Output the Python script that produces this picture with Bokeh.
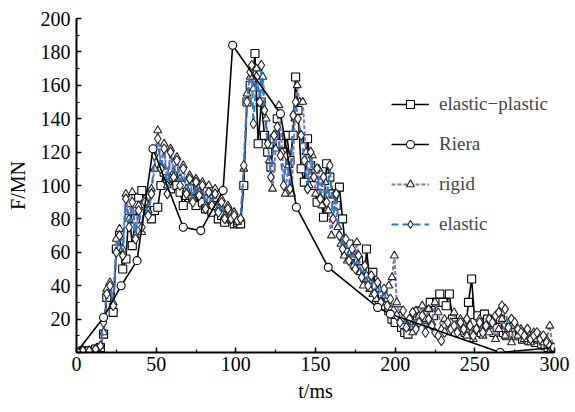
from bokeh.plotting import figure
from bokeh.models import Range1d, SingleIntervalTicker, Legend, LegendItem
from bokeh.embed import file_html
from bokeh.resources import INLINE

# ---------------- data ----------------
ep_t = [0, 4, 8, 12, 15, 17, 19, 21, 23, 25, 27, 29, 31, 33, 35, 37, 39, 41, 43, 45, 47, 49,
        51, 53, 55, 57, 59, 61, 63, 65, 67, 69, 71, 73, 75, 77, 79, 81, 83, 85, 87, 89, 91,
        93, 95, 97, 99, 101, 103, 105, 107, 109, 111, 112, 114, 116, 118, 120, 122, 124, 126,
        128, 130, 132, 134, 136, 137.5, 139, 141, 143, 145, 147, 149, 151, 153, 155, 157, 159,
        161, 163, 165, 167, 169, 171, 173, 175, 177, 179, 181, 182, 184, 186, 188, 190, 192,
        194, 196, 198, 200, 202, 204, 206, 208, 210, 212, 214, 216, 218, 220, 222, 224, 226,
        228, 230, 232, 234, 236, 238, 240, 242, 244, 246, 248, 250, 252, 254, 256, 258, 260,
        262, 264, 266, 268, 270, 272, 274, 276, 278, 280, 282, 284, 286, 288, 290, 292, 294,
        296, 298, 300]
ep_f = [0, 1, 1, 2, 3, 11, 33, 38, 24, 62, 70, 50, 56, 85, 64, 80, 93, 97, 88, 85, 80, 85,
        87, 100, 108, 104, 98, 105, 100, 96, 88, 94, 98, 92, 88, 95, 90, 86, 92, 84, 88, 80, 82,
        78, 84, 80, 77, 78, 77, 100, 150, 160, 168, 179, 125, 150, 130, 120, 111, 128, 140,
        125, 120, 130, 115, 130, 165, 145, 110, 102, 128, 112, 100, 90, 95, 81, 113, 105,
        95, 88, 99, 80, 60, 65, 58, 52, 55, 50, 45, 62, 44, 48, 40, 30, 35,
        28, 25, 20, 18, 25, 15, 12, 11, 18, 20, 22, 25, 20, 23, 30, 22, 30,
        35, 30, 28, 35, 20, 18, 15, 18, 12, 30, 44, 18, 22, 12, 23, 20, 18,
        12, 15, 20, 12, 10, 15, 12, 10, 12, 8, 10, 7, 10, 6, 8, 5, 4,
        3, 2, 1]

riera_t = [0, 17, 28, 38, 48, 67, 78, 92, 98, 128, 138, 158, 189, 197, 266, 300]
riera_f = [0, 21, 40, 55, 122, 75, 73, 97, 184, 143, 87, 51, 27, 23, 0, 3]

rigid_t = [0, 4, 8, 12, 15, 17, 19, 21, 23, 25, 27, 29, 31, 33, 35, 37, 39, 41, 43, 45, 47, 49,
           51, 53, 55, 57, 59, 61, 63, 65, 67, 69, 71, 73, 75, 77, 79, 81, 83, 85, 87, 89, 91,
           93, 95, 97, 99, 101, 103, 105, 107, 109, 111, 113, 115, 117, 119, 121, 123, 125,
           127, 129, 131, 133, 135, 137, 138.5, 140, 142, 144, 146, 148, 150, 152, 154, 156,
           158, 160, 162, 164, 166, 168, 170, 172, 174, 176, 178, 180, 182, 184, 186, 188, 190,
           192, 194, 196, 198, 199.5, 201, 203, 205, 207, 209, 211, 213, 215, 217, 219, 221,
           223, 225, 227, 229, 231, 233, 235, 237, 239, 241, 243, 245, 247, 249, 251, 253, 255,
           257, 259, 261, 263, 265, 267, 269, 271, 273, 275, 277, 279, 281, 283, 285, 287, 289,
           291, 293, 295, 297, 299, 300]
rigid_f = [0, 1, 1, 2, 4, 12, 38, 42, 30, 68, 74, 62, 95, 80, 96, 70, 88, 72, 92, 85, 98, 110,
           133, 112, 125, 100, 122, 108, 117, 104, 112, 98, 106, 92, 104, 96, 102, 88, 100, 90,
           98, 86, 92, 82, 88, 80, 84, 78, 80, 110, 155, 165, 158, 170, 150, 165, 140, 115, 98,
           122, 148, 120, 95, 112, 95, 140, 160, 150, 150, 120, 100, 118, 95, 110, 88, 102,
           85, 70, 95, 75, 65, 58, 55, 60, 52, 66, 48, 40, 46, 38, 35, 32, 38,
           30, 34, 40, 45, 58, 30, 22, 20, 15, 18, 12, 25, 22, 28, 20, 26,
           18, 30, 24, 14, 20, 12, 18, 24, 15, 20, 12, 10, 15, 8, 14, 20, 10,
           16, 12, 18, 8, 14, 20, 10, 14, 6, 16, 10, 14, 8, 12, 6, 12, 8,
           10, 6, 8, 16, 2, 1]

elastic_t = [0, 4, 8, 12, 15, 17, 19, 21, 23, 25, 27, 29, 31, 33, 35, 37, 39, 41, 43, 45, 47,
             49, 51, 53, 55, 57, 59, 61, 63, 65, 67, 69, 71, 73, 75, 77, 79, 81, 83, 85, 87, 89,
             91, 93, 95, 97, 99, 101, 103, 105, 107, 109, 110, 111, 113, 115, 116, 118, 120,
             122, 124, 126, 128, 130, 132, 134, 136, 137.5, 139, 141, 143, 145, 147, 149, 151,
             153, 155, 157, 159, 161, 163, 165, 167, 169, 171, 173, 175, 177, 179, 181, 183,
             185, 187, 189, 191, 193, 195, 197, 199, 201, 203, 205, 207, 209, 211, 213, 215,
             217, 219, 221, 223, 225, 227, 229, 231, 233, 235, 237, 239, 241, 243, 245, 247,
             249, 251, 253, 255, 257, 259, 261, 263, 265, 267, 269, 271, 273, 275, 277, 279,
             281, 283, 285, 287, 289, 291, 293, 295, 297, 299, 300]
elastic_f = [0, 1, 1, 2, 4, 18, 35, 40, 28, 60, 70, 58, 92, 75, 90, 68, 85, 75, 90, 82, 95,
             118, 128, 110, 122, 95, 120, 105, 115, 100, 110, 95, 104, 90, 102, 94, 100, 86, 96,
             88, 95, 84, 90, 80, 86, 80, 82, 79, 80, 112, 150, 168, 172, 137, 165, 150, 172,
             145, 125, 105, 130, 135, 118, 100, 118, 98, 142, 150, 140, 130, 115, 98, 120, 105,
             110, 92, 105, 90, 112, 80, 95, 70, 62, 68, 55, 62, 50, 58, 45, 52, 40,
             46, 35, 42, 30, 38, 28, 32, 25, 22, 18, 25, 15, 20, 24, 14, 18,
             22, 12, 20, 16, 12, 10, 7, 12, 18, 14, 16, 12, 18, 14, 20, 16,
             10, 14, 18, 12, 16, 20, 18, 22, 24, 28, 26, 15, 20, 18, 14, 12,
             10, 14, 8, 10, 12, 8, 10, 6, 4, 3, 2]

series_names = ["elastic\u2212plastic", "Riera", "rigid", "elastic"]
x_title = "t/ms"
y_title = "F/MN"

# ---------------- figure ----------------
FONT = "Liberation Serif"
p = figure(width=575, height=412, output_backend="svg", toolbar_location=None,
           x_range=Range1d(0, 300), y_range=Range1d(0, 200),
           min_border_left=76, min_border_right=21, min_border_top=18, min_border_bottom=60)
p.outline_line_color = None
p.xgrid.visible = False
p.ygrid.visible = False
p.background_fill_color = "white"
p.border_fill_color = "white"

for ax, iv in ((p.xaxis[0], 50), (p.yaxis[0], 20)):
    ax.ticker = SingleIntervalTicker(interval=iv, num_minor_ticks=2)
    ax.axis_line_width = 2
    ax.axis_line_color = "black"
    ax.major_tick_in = 5
    ax.major_tick_out = 0
    ax.minor_tick_in = 3
    ax.minor_tick_out = 0
    ax.major_tick_line_width = 1.5
    ax.minor_tick_line_width = 1.2
    ax.major_label_text_font = FONT
    ax.major_label_text_font_size = "20px"
    ax.major_label_text_color = "black"
    ax.axis_label_text_font = FONT
    ax.axis_label_text_font_size = "20px"
    ax.axis_label_text_font_style = "normal"
    ax.axis_label_text_color = "black"
p.yaxis.major_label_overrides = {0: ""}
p.xaxis.major_label_standoff = 4
p.yaxis.major_label_standoff = 6
p.xaxis.axis_label = x_title
p.yaxis.axis_label = y_title
p.xaxis.axis_label_standoff = 6
p.yaxis.axis_label_standoff = 9

PURPLE = "#8e6cb6"
BLUE = "#1f7ac8"

l_ep = p.line(ep_t, ep_f, line_color="black", line_width=1.6)
s_ep = p.scatter(ep_t, ep_f, marker="square", size=8, fill_color="white",
                 line_color="black", line_width=1.1)
l_rg = p.line(rigid_t, rigid_f, line_color=PURPLE, line_width=2, line_dash="4 2")
s_rg = p.scatter(rigid_t, rigid_f, marker="triangle", size=8, fill_color="white",
                 line_color="#222222", line_width=1.1)
l_el = p.line(elastic_t, elastic_f, line_color=BLUE, line_width=2, line_dash="7 4")
s_el = p.scatter(elastic_t, elastic_f, marker="diamond", size=10, fill_color="white",
                 line_color="#222222", line_width=1.1)
l_ri = p.line(riera_t, riera_f, line_color="black", line_width=1.6)
s_ri = p.scatter(riera_t, riera_f, marker="circle", size=8, fill_color="white",
                 line_color="black", line_width=1.1)

legend = Legend(items=[
    LegendItem(label=series_names[0], renderers=[l_ep, s_ep]),
    LegendItem(label=series_names[1], renderers=[l_ri, s_ri]),
    LegendItem(label=series_names[2], renderers=[l_rg, s_rg]),
    LegendItem(label=series_names[3], renderers=[l_el, s_el]),
])
legend.location = (315, 117)
legend.border_line_color = None
legend.background_fill_alpha = 0
legend.label_text_font = FONT
legend.label_text_font_size = "19px"
legend.glyph_width = 38
legend.glyph_height = 20
legend.label_height = 20
legend.spacing = 18
legend.padding = 0
legend.margin = 0
legend.label_standoff = 10
p.add_layout(legend)

open("out.html", "w").write(file_html(p, INLINE))
